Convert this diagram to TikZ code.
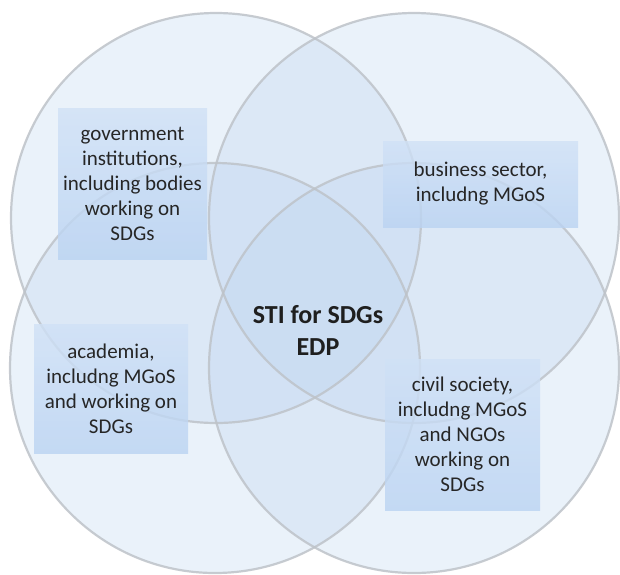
\documentclass[tikz,border=0pt]{standalone}
\usepackage{fontspec}
\setmainfont{Carlito}
\definecolor{vennblue}{RGB}{188,212,240}
\definecolor{venngray}{RGB}{190,195,201}
\definecolor{boxtop}{RGB}{208,225,246}
\definecolor{boxbottom}{RGB}{186,211,242}
\definecolor{textgray}{RGB}{38,38,38}
\begin{document}
\begin{tikzpicture}[x=1pt,y=-1pt,
  vennfill/.style={fill=vennblue, fill opacity=0.3},
  vennline/.style={draw=venngray, line width=2.2pt, draw opacity=0.85},
  boxlabel/.style={top color=boxtop, bottom color=boxbottom, fill opacity=0.8,
    text opacity=1, text=textgray,
    align=center, font=\fontsize{21}{25}\selectfont, inner sep=0pt},
  centerlabel/.style={text=black!88, align=center, font=\bfseries\fontsize{26}{32}\selectfont}]
\useasboundingbox[fill=white] (0,0) rectangle (620,574);
% circles
\foreach \cx/\cy in {216/218, 414/218, 215/368, 414/368}{
  \fill[vennfill] (\cx,\cy) circle[radius=205];
}
\foreach \cx/\cy in {216/218, 414/218, 215/368, 414/368}{
  \draw[vennline] (\cx,\cy) circle[radius=205];
}
% boxes
\node[boxlabel, minimum width=149pt, minimum height=151pt] (gov) at (132.5,183.5)
  {government\\institutions,\\including bodies\\working on\\SDGs};
\node[boxlabel, minimum width=195pt, minimum height=86pt] (bus) at (480.5,184)
  {business sector,\\includng MGoS};
\node[boxlabel, minimum width=154pt, minimum height=129pt] (aca) at (111,388.5)
  {academia,\\includng MGoS\\and working on\\SDGs};
\node[boxlabel, minimum width=155pt, minimum height=151pt] (civ) at (462.5,434.5)
  {civil society,\\includng MGoS\\and NGOs\\working on\\SDGs};
\node[centerlabel] (sti) at (318,330) {STI for SDGs\\EDP};
\end{tikzpicture}
\end{document}
